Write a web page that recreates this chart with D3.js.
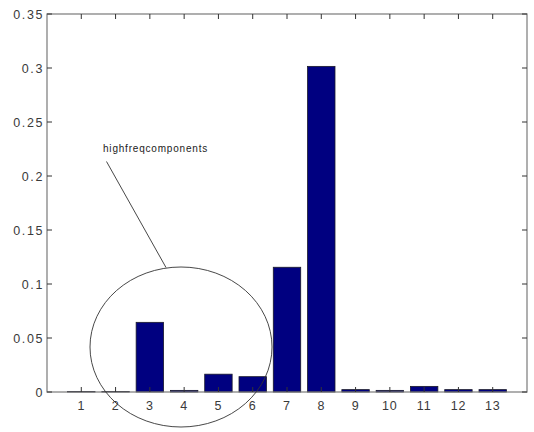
<!DOCTYPE html>
<html>
<head>
<meta charset="utf-8">
<script src="https://cdn.jsdelivr.net/npm/d3@7"></script>
<style>
  html, body { margin: 0; padding: 0; background: #fff; }
  svg { display: block; }
  .tick-label { font-family: "Liberation Sans", Arial, sans-serif; font-size: 12.5px; fill: #3a3a3a; letter-spacing: 0.8px; }
  .ytick { letter-spacing: 1.6px; }
</style>
</head>
<body>
<svg id="chart" width="534" height="432"></svg>
<script>
// Energy per component index
const categories = [1, 2, 3, 4, 5, 6, 7, 8, 9, 10, 11, 12, 13];
const values = [0.0005, 0.0005, 0.0645, 0.0015, 0.0165, 0.0142, 0.1155, 0.3015, 0.0022, 0.0015, 0.0052, 0.0022, 0.0022];
const yTicks = [0, 0.05, 0.1, 0.15, 0.2, 0.25, 0.3, 0.35];
const yTickLabels = ["0", "0.05", "0.1", "0.15", "0.2", "0.25", "0.3", "0.35"];
const annotationText = "highfreqcomponents";

const svg = d3.select("#chart");
const plot = { left: 47, right: 527, top: 14, bottom: 392 };

const x = d3.scaleLinear().domain([0, 14]).range([plot.left, plot.right]);
const y = d3.scaleLinear().domain([0, 0.35]).range([plot.bottom, plot.top]);
const barW = 0.8 * (x(1) - x(0));

const axisColor = "#7a7a7a";
const tickLen = 5;

// bars
svg.append("g").selectAll("rect").data(values).join("rect")
  .attr("x", (d, i) => x(categories[i]) - barW / 2)
  .attr("y", d => y(d))
  .attr("width", barW)
  .attr("height", d => y(0) - y(d))
  .attr("fill", "#000080")
  .attr("stroke", "#1a1a2a")
  .attr("stroke-width", 0.8);

// box
svg.append("rect")
  .attr("x", plot.left).attr("y", plot.top)
  .attr("width", plot.right - plot.left).attr("height", plot.bottom - plot.top)
  .attr("fill", "none").attr("stroke", axisColor).attr("stroke-width", 1.2);

// inward ticks on all four sides
const ticks = svg.append("g").attr("stroke", "#333").attr("stroke-width", 1);
categories.forEach(c => {
  ticks.append("line").attr("x1", x(c)).attr("x2", x(c)).attr("y1", plot.bottom).attr("y2", plot.bottom - tickLen);
  ticks.append("line").attr("x1", x(c)).attr("x2", x(c)).attr("y1", plot.top).attr("y2", plot.top + tickLen);
});
yTicks.forEach(v => {
  ticks.append("line").attr("x1", plot.left).attr("x2", plot.left + tickLen).attr("y1", y(v)).attr("y2", y(v));
  ticks.append("line").attr("x1", plot.right).attr("x2", plot.right - tickLen).attr("y1", y(v)).attr("y2", y(v));
});

// tick labels
svg.append("g").selectAll("text").data(categories).join("text")
  .attr("class", "tick-label")
  .attr("x", d => x(d)).attr("y", plot.bottom + 18)
  .attr("text-anchor", "middle")
  .text(d => d);
svg.append("g").selectAll("text").data(yTicks).join("text")
  .attr("class", "tick-label ytick")
  .attr("x", plot.left - 3).attr("y", d => y(d) + 4.5)
  .attr("text-anchor", "end")
  .text((d, i) => yTickLabels[i]);

// annotation: ellipse around the high-frequency components with a leader line
const ann = svg.append("g").attr("fill", "none").attr("stroke", "#333").attr("stroke-width", 0.9);
ann.append("ellipse")
  .attr("cx", 181).attr("cy", 347).attr("rx", 91).attr("ry", 80);
ann.append("line")
  .attr("x1", 106.5).attr("y1", 161.5).attr("x2", 166).attr("y2", 267.5);
svg.append("text")
  .attr("x", 103).attr("y", 151.5)
  .attr("font-family", "Liberation Sans, Arial, sans-serif")
  .attr("font-size", 10)
  .attr("letter-spacing", 0.8)
  .attr("fill", "#222")
  .text(annotationText);
</script>
</body>
</html>
